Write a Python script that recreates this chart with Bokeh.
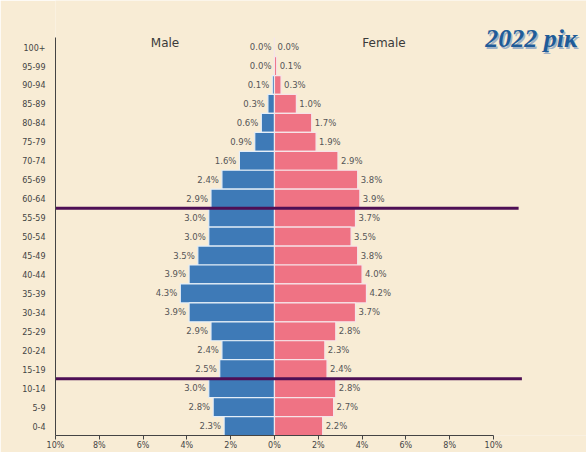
from bokeh.plotting import figure
from bokeh.models import ColumnDataSource, FixedTicker, Range1d
from bokeh.core.properties import value
from bokeh.embed import file_html
from bokeh.resources import INLINE

# ---- data (top row first: 100+ ... 0-4) ----
age_groups = ["100+", "95-99", "90-94", "85-89", "80-84", "75-79", "70-74", "65-69",
              "60-64", "55-59", "50-54", "45-49", "40-44", "35-39", "30-34", "25-29",
              "20-24", "15-19", "10-14", "5-9", "0-4"]
male = [0.0, 0.0, 0.1, 0.3, 0.6, 0.9, 1.6, 2.4, 2.9, 3.0, 3.0, 3.5, 3.9, 4.3, 3.9, 2.9,
        2.4, 2.5, 3.0, 2.8, 2.3]
female = [0.0, 0.1, 0.3, 1.0, 1.7, 1.9, 2.9, 3.8, 3.9, 3.7, 3.5, 3.8, 4.0, 4.2, 3.7, 2.8,
          2.3, 2.4, 2.8, 2.7, 2.2]
x_ticks = [-10, -8, -6, -4, -2, 0, 2, 4, 6, 8, 10]
x_tick_labels = ["10%", "8%", "6%", "4%", "2%", "0%", "2%", "4%", "6%", "8%", "10%"]
divider_rows = [11.5, 2.5]        # between 60-64/55-59 and 15-19/10-14
divider_ends = [11.15, 11.3]
year_label = "2022 рік"

# ---- build ----
n = len(age_groups)
rows = [n - 1 - i for i in range(n)]   # 100+ -> 20 ... 0-4 -> 0

src = ColumnDataSource(dict(
    y=rows,
    m_left=[-v for v in male],
    f_right=female,
    m_lab=[f"{v:.1f}%" for v in male],
    f_lab=[f"{v:.1f}%" for v in female],
))

W, H = 586, 452
BG = "#f8ecd5"
p = figure(width=W, height=H, output_backend="svg", toolbar_location=None,
           x_range=Range1d(-10, 14.25), y_range=Range1d(-0.5, 22.46),
           min_border_left=55, min_border_right=0, min_border_top=0, min_border_bottom=0,
           background_fill_color=BG, border_fill_color=BG, outline_line_color=None)
p.grid.visible = False

MALE_C = "#3e7ab7"
FEMALE_C = "#ef7384"
p.hbar(y="y", left="m_left", right=0, height=1.0, source=src,
       fill_color=MALE_C, line_color="#e4eef8", line_width=1.2)
p.hbar(y="y", left=0, right="f_right", height=1.0, source=src,
       fill_color=FEMALE_C, line_color="#f6e4e8", line_width=1.2)

lab_font = value("DejaVu Sans")
p.text(x="m_left", y="y", text="m_lab", source=src, text_align="right",
       text_baseline="middle", x_offset=-3, text_font_size="8.5px",
       text_color="#555555", text_font=lab_font)
p.text(x="f_right", y="y", text="f_lab", source=src, text_align="left",
       text_baseline="middle", x_offset=3, text_font_size="8.5px",
       text_color="#555555", text_font=lab_font)

# divider lines
p.segment(x0=[-10, -10], x1=divider_ends, y0=divider_rows, y1=divider_rows,
          line_color="#4e0f55", line_width=3)

# headers
p.text(x=[-5, 5], y=[n - 1 + 0.2, n - 1 + 0.2], text=["Male", "Female"],
       text_align="center", text_baseline="middle", text_font_size="12px",
       text_color="#3a3a3a", text_font=value("DejaVu Sans"))

# year label with shadow
p.text(x=[9.63], y=[n - 1 + 0.45], text=[year_label], text_align="left",
       text_baseline="middle", text_font_size="26px", text_font_style="bold italic",
       text_color="#9fb0c4", text_font=value("Liberation Serif"),
       x_offset=1.5, y_offset=1.5)
p.text(x=[9.63], y=[n - 1 + 0.45], text=[year_label], text_align="left",
       text_baseline="middle", text_font_size="26px", text_font_style="bold italic",
       text_color="#1f5c98", text_font=value("Liberation Serif"))

# axes
p.yaxis.ticker = FixedTicker(ticks=rows)
p.yaxis.major_label_overrides = {r: a for r, a in zip(rows, age_groups)}
p.yaxis.bounds = (-0.5, n - 0.5)
p.yaxis.major_tick_line_color = None
p.yaxis.minor_tick_line_color = None
p.yaxis.axis_line_color = "#444444"
p.yaxis.major_label_text_font_size = "8px"
p.yaxis.major_label_text_color = "#444444"
p.yaxis.major_label_text_font = "DejaVu Sans"
p.yaxis.major_label_standoff = 4

p.xaxis.ticker = FixedTicker(ticks=x_ticks)
p.xaxis.major_label_overrides = {t: l for t, l in zip(x_ticks, x_tick_labels)}
p.xaxis.bounds = (-10, 10)
p.xaxis.minor_tick_line_color = None
p.xaxis.axis_line_color = "#444444"
p.xaxis.major_tick_line_color = "#444444"
p.xaxis.major_tick_in = 0
p.xaxis.major_tick_out = 4
p.xaxis.major_label_standoff = 1
p.xaxis.major_label_text_font_size = "8px"
p.xaxis.major_label_text_color = "#444444"
p.xaxis.major_label_text_font = "DejaVu Sans"

open("out.html", "w").write(file_html(p, INLINE))
